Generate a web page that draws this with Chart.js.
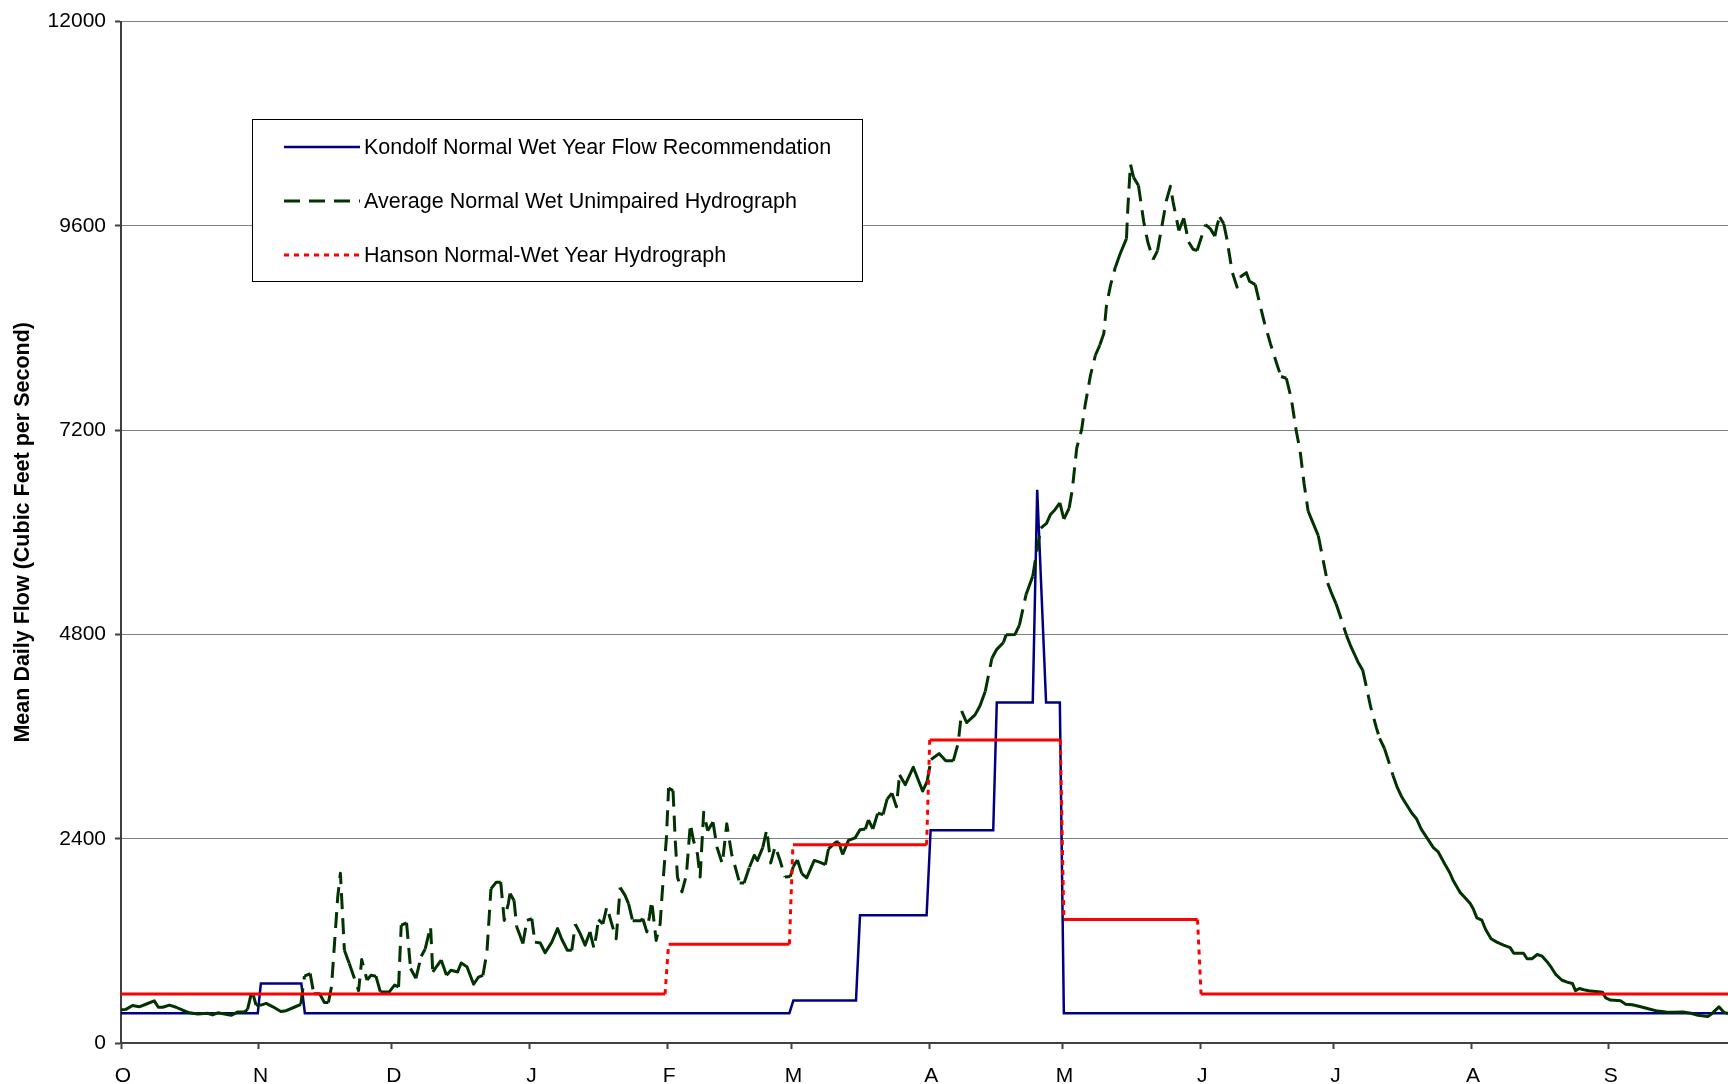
<!DOCTYPE html>
<html lang="en">
<head>
<meta charset="utf-8">
<script src="https://cdn.jsdelivr.net/npm/chart.js@4.4.1/dist/chart.umd.min.js"></script>
<style>
  html, body { margin: 0; padding: 0; background: #fff; overflow: hidden; }
  .chart-wrap { position: relative; width: 1745px; height: 1084px; }
</style>
</head>
<body>
<div class="chart-wrap"><canvas id="flowChart"></canvas></div>
<script>
  const FONT = "'Liberation Sans', Arial, sans-serif";

  // water year axis: day 0 = Oct 1
  const monthTicks = [0, 31, 61, 92, 123, 151, 182, 212, 243, 273, 304, 335];
  const monthLabels = ['O', 'N', 'D', 'J', 'F', 'M', 'A', 'M', 'J', 'J', 'A', 'S'];
  const flowTicks = [0, 2400, 4800, 7200, 9600, 12000];

  const seriesNames = [
    'Kondolf Normal Wet Year Flow Recommendation',
    'Average Normal Wet Unimpaired Hydrograph',
    'Hanson Normal-Wet Year Hydrograph'
  ];

  // Kondolf recommendation (step changes)
  const kondolfDays = [0, 30.8, 31.5, 40.6, 41.4, 150.5, 151.4, 165.5, 166.4, 181.4, 182.3, 196.4, 197.2, 205.3, 206.3, 208.3, 211.4, 212.3, 365];
  const kondolfFlow = [350, 350, 700, 700, 350, 350, 500, 500, 1500, 1500, 2500, 2500, 4000, 4000, 6500, 4000, 4000, 350, 350];

  // Hanson hydrograph (step changes)
  const hansonDays = [0, 122.5, 123.3, 150.5, 151.3, 181.4, 182.1, 211.5, 212.3, 242.4, 243.2, 365];
  const hansonFlow = [575, 575, 1160, 1160, 2330, 2330, 3560, 3560, 1450, 1450, 575, 575];

  // average unimpaired hydrograph
  const avgDays = [
    0, 1.1, 2.6, 4.1, 5.6, 7.5, 8.4, 9.4, 10.9, 12.4,
    13.9, 15.4, 17.3, 19.5, 20.6, 21.8, 23.3, 24.8, 26.3, 27.8,
    28.5, 29.5, 30.4, 31.5, 32.7, 34.2, 36.0, 37.2, 39.0, 40.5,
    41.3, 42.6, 43.4, 44.7, 45.8, 46.7, 47.4, 48.8, 49.4, 50.3,
    51.4, 53.5, 54.2, 55.4, 56.3, 57.4, 58.4, 60.4, 61.6, 62.5,
    63.1, 64.3, 65.2, 66.4, 67.6, 68.5, 69.7, 70.2, 72.1, 73.3,
    74.3, 75.8, 76.6, 77.9, 79.4, 80.5, 81.5, 82.4, 83.3, 84.5,
    85.5, 86.3, 87.2, 87.6, 88.5, 89.1, 90.5, 91.4, 92.5, 93.2,
    94.4, 95.5, 97.0, 98.3, 99.2, 100.5, 101.5, 102.3, 103.4, 104.5,
    105.6, 106.5, 107.1, 107.5, 108.5, 109.4, 110.5, 111.5, 112.4, 113.5,
    114.3, 115.2, 116.9, 117.5, 118.4, 119.0, 119.5, 119.9, 120.5, 121.4,
    121.8, 122.3, 122.8, 123.3, 124.3, 124.8, 125.3, 126.3, 127.3, 128.2,
    128.9, 129.8, 130.4, 131.2, 132.1, 133.3, 134.2, 135.4, 136.4, 137.0,
    137.5, 139.3, 140.3, 141.5, 142.6, 143.3, 144.5, 145.4, 146.3, 147.3,
    148.4, 149.5, 150.7, 151.4, 152.3, 153.3, 154.4, 156.1, 157.3, 158.6,
    159.3, 161.0, 161.6, 162.5, 163.8, 165.3, 166.4, 167.6, 168.3, 169.3,
    170.4, 171.6, 172.5, 173.6, 174.6, 175.3, 176.6, 178.4, 180.5, 181.5,
    182.4, 184.2, 185.7, 187.4, 188.5, 189.3, 190.4, 192.3, 193.4, 194.6,
    196.1, 197.2, 198.7, 199.3, 201.3, 202.3, 203.8, 205.3, 206.2, 207.1,
    208.4, 209.3, 210.3, 211.4, 212.3, 213.5, 214.2, 215.2, 216.3, 217.1,
    218.3, 219.4, 220.4, 221.3, 221.9, 222.8, 223.9, 225.0, 226.4, 226.7,
    227.3, 228.0, 229.1, 230.3, 231.2, 232.4, 233.4, 234.4, 235.4, 236.3,
    236.9, 238.2, 239.3, 240.4, 241.4, 242.3, 243.2, 244.2, 245.3, 246.3,
    246.8, 247.4, 248.3, 249.0, 250.2, 251.3, 252.0, 253.4, 254.1, 255.4,
    256.5, 257.5, 258.8, 260.3, 261.2, 262.4, 263.5, 264.6, 265.5, 266.4,
    267.3, 268.4, 269.6, 270.6, 271.7, 272.5, 273.6, 274.7, 275.9, 277.0,
    278.5, 279.6, 280.4, 281.4, 282.7, 283.4, 284.5, 285.4, 286.4, 287.4,
    288.3, 289.4, 290.6, 291.7, 292.8, 294.0, 295.5, 296.6, 298.1, 299.2,
    300.0, 301.5, 302.6, 303.8, 304.5, 305.3, 306.4, 307.3, 308.5, 309.8,
    311.3, 312.8, 313.6, 315.8, 316.6, 317.7, 318.9, 320.0, 321.1, 322.1,
    323.0, 324.4, 325.6, 326.8, 327.5, 328.4, 329.4, 330.5, 332.0, 333.6,
    334.3, 335.4, 337.7, 338.8, 340.3, 342.2, 344.1, 346.0, 347.9, 349.8,
    351.7, 353.5, 355.1, 357.3, 358.1, 359.8, 360.9, 362.5
  ];
  const avgFlow = [
    390, 395, 440, 425, 455, 495, 420, 420, 445, 420,
    385, 355, 340, 350, 330, 355, 340, 325, 365, 365,
    395, 620, 445, 445, 465, 425, 370, 380, 420, 455,
    785, 815, 580, 580, 475, 475, 660, 1715, 1995, 1090,
    935, 615, 980, 740, 795, 785, 600, 600, 680, 660,
    1385, 1410, 875, 760, 1020, 1105, 1370, 835, 975, 795,
    855, 835, 940, 895, 690, 775, 795, 1070, 1810, 1890,
    1890, 1440, 1635, 1755, 1675, 1365, 1170, 1440, 1460, 1185,
    1175, 1060, 1185, 1345, 1225, 1090, 1090, 1395, 1285, 1150,
    1305, 1110, 1295, 1450, 1400, 1600, 1400, 1225, 1825, 1735,
    1635, 1435, 1435, 1460, 1305, 1490, 1670, 1480, 1205, 1400,
    1715, 2065, 2400, 2995, 2965, 2380, 1950, 1775, 1970, 2575,
    2380, 2220, 1950, 2710, 2495, 2595, 2300, 2105, 2575, 2380,
    2220, 1880, 1880, 2065, 2205, 2145, 2295, 2505, 2115, 2310,
    2145, 1950, 1955, 2075, 2150, 1990, 1940, 2145, 2125, 2095,
    2280, 2360, 2360, 2215, 2380, 2410, 2505, 2515, 2620, 2515,
    2700, 2685, 2865, 2935, 2775, 3150, 3035, 3240, 2960, 3070,
    3330, 3400, 3315, 3315, 3520, 3900, 3765, 3855, 3960, 4130,
    4520, 4625, 4705, 4795, 4800, 4910, 5270, 5485, 5775, 6050,
    6105, 6210, 6265, 6345, 6155, 6285, 6500, 6990, 7205, 7495,
    7845, 8080, 8200, 8335, 8665, 8900, 9115, 9275, 9450, 9800,
    10325, 10170, 10075, 9645, 9410, 9205, 9310, 9605, 9900, 10065,
    9880, 9545, 9690, 9410, 9325, 9310, 9455, 9615, 9565, 9480,
    9605, 9705, 9625, 9450, 9060, 8880, 9000, 9050, 8950, 8910,
    8665, 8455, 8220, 7970, 7830, 7810, 7575, 7200, 6955, 6570,
    6250, 6110, 5960, 5695, 5405, 5295, 5160, 4990, 4795, 4650,
    4480, 4380, 4190, 3945, 3700, 3580, 3460, 3315, 3145, 3000,
    2900, 2805, 2705, 2635, 2510, 2415, 2295, 2245, 2100, 2000,
    1905, 1770, 1710, 1640, 1575, 1470, 1445, 1330, 1225, 1185,
    1150, 1120, 1055, 1055, 990, 990, 1040, 1020, 955, 885,
    810, 740, 715, 700, 615, 640, 625, 615, 605, 595,
    530, 505, 495, 455, 450, 425, 400, 375, 365, 360,
    365, 350, 325, 310, 340, 425, 360, 340
  ];

  const toPoints = (xs, ys) => xs.map((x, i) => ({ x: x, y: ys[i] }));

  // Excel restarts the dash on every segment, so only steep pieces show gaps
  const steep = ctx => Math.abs(ctx.p1.y - ctx.p0.y) > 2.8 * Math.abs(ctx.p1.x - ctx.p0.x);

  const GREEN_DASH = [16, 9];
  const RED_DOT = [5, 5];

  const legendBox = {
    id: 'legendBox',
    afterDraw(chart) {
      const c = chart.ctx;
      const left = 252, top = 119, w = 610, h = 162;
      c.save();
      c.fillStyle = '#ffffff';
      c.fillRect(left, top, w, h);
      c.strokeStyle = '#000000';
      c.lineWidth = 1;
      c.setLineDash([]);
      c.strokeRect(left + 0.5, top + 0.5, w, h);
      const rows = [147, 201, 255];
      chart.data.datasets.forEach((ds, i) => {
        const y = rows[i];
        c.beginPath();
        c.strokeStyle = ds.borderColor;
        c.lineWidth = ds.borderWidth;
        c.setLineDash(ds.legendDash);
        c.moveTo(284, y);
        c.lineTo(360, y);
        c.stroke();
        c.setLineDash([]);
        c.fillStyle = '#000000';
        c.font = '21.5px ' + FONT;
        c.textAlign = 'left';
        c.textBaseline = 'middle';
        c.fillText(ds.label, 364, y + 1);
      });
      c.restore();
    }
  };

  new Chart(document.getElementById('flowChart'), {
    type: 'line',
    data: {
      datasets: [{
        label: seriesNames[0],
        data: toPoints(kondolfDays, kondolfFlow),
        borderColor: '#000080',
        borderWidth: 2.5,
        legendDash: [],
        order: 3
      }, {
        label: seriesNames[1],
        data: toPoints(avgDays, avgFlow),
        borderColor: '#003300',
        borderWidth: 3,
        borderJoinStyle: 'round',
        legendDash: GREEN_DASH,
        order: 2,
        segment: {
          borderDash: ctx => steep(ctx) ? GREEN_DASH : undefined
        }
      }, {
        label: seriesNames[2],
        data: toPoints(hansonDays, hansonFlow),
        borderColor: '#ff0000',
        borderWidth: 3,
        legendDash: RED_DOT,
        order: 1,
        segment: {
          borderDash: ctx => steep(ctx) ? RED_DOT : undefined
        }
      }]
    },
    options: {
      responsive: true,
      maintainAspectRatio: false,
      animation: false,
      elements: {
        point: { radius: 0, hoverRadius: 0 },
        line: { tension: 0, fill: false }
      },
      layout: { padding: { top: 19, right: 3, left: 0, bottom: 0 } },
      plugins: {
        legend: { display: false },
        tooltip: { enabled: false }
      },
      scales: {
        x: {
          type: 'linear',
          min: 0,
          max: 365,
          afterBuildTicks: scale => { scale.ticks = monthTicks.map(v => ({ value: v })); },
          afterFit: scale => { scale.height = 41; },
          grid: { drawOnChartArea: false, drawTicks: true, tickLength: 6, tickColor: '#404040', tickWidth: 2 },
          border: { color: '#404040', width: 2 },
          ticks: {
            autoSkip: false,
            maxRotation: 0,
            padding: 15,
            labelOffset: 2,
            color: '#000',
            font: { family: FONT, size: 21 },
            callback: (v, i) => monthLabels[i]
          }
        },
        y: {
          min: 0,
          max: 12000,
          afterBuildTicks: scale => { scale.ticks = flowTicks.map(v => ({ value: v })); },
          afterFit: scale => { scale.width = 121; },
          grid: { color: '#808080', lineWidth: 1, drawTicks: true, tickLength: 6, tickColor: '#404040', tickWidth: 2 },
          border: { color: '#404040', width: 2 },
          ticks: {
            padding: 9,
            color: '#000',
            font: { family: FONT, size: 21 },
            callback: v => String(v)
          },
          title: {
            display: true,
            text: 'Mean Daily Flow (Cubic Feet per Second)',
            color: '#000',
            font: { family: FONT, size: 21.5, weight: 'bold' },
            padding: { top: 10, bottom: 0 }
          }
        }
      }
    },
    plugins: [legendBox]
  });
</script>
</body>
</html>
